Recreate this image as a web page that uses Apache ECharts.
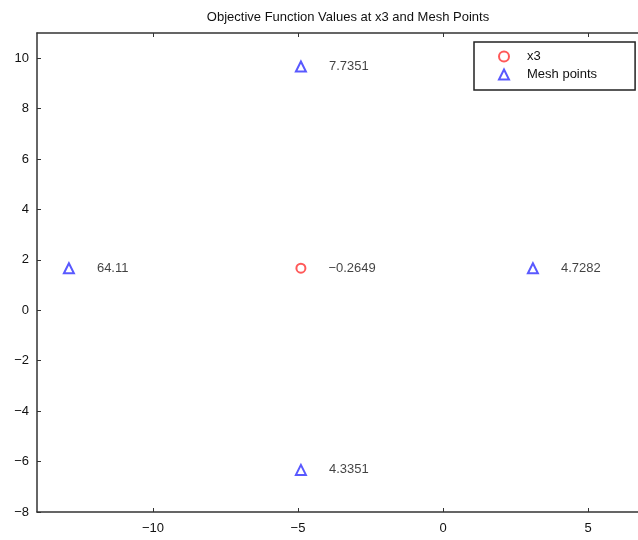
<!DOCTYPE html>
<html>
<head>
<meta charset="utf-8">
<script src="https://cdn.jsdelivr.net/npm/echarts@6/dist/echarts.min.js"></script>
<style>
  html, body { margin: 0; padding: 0; background: #fff; }
  #main { width: 638px; height: 540px; }
</style>
</head>
<body>
<div id="main"></div>
<script>
// 当前点 x3
var x3X = [-4.9];
var x3Y = [1.67];
var x3F = ['-0.2649'];

// 网格点 Mesh points
var meshX = [-4.9, -4.9, -12.9, 3.1];
var meshY = [9.67, -6.33, 1.67, 1.67];
var meshF = ['7.7351', '4.3351', '64.11', '4.7282'];

// 坐标轴刻度
var xTicks = [-10, -5, 0, 5];
var yTicks = [-8, -6, -4, -2, 0, 2, 4, 6, 8, 10];

var font = 'Liberation Sans, Helvetica, Arial, sans-serif';
var minus = function (v) { return String(v).replace('-', '\u2212'); };

function pts(xs, ys, fs) {
    return xs.map(function (x, i) { return [x, ys[i], fs[i]]; });
}

var axisLine = { show: true, onZero: false, lineStyle: { color: '#333', width: 1.5 } };

var myChart = echarts.init(document.getElementById('main'));

var option = {
    backgroundColor: '#fff',
    animation: false,
    title: {
        text: 'Objective Function Values at x3 and Mesh Points',
        left: 343,
        textAlign: 'center',
        top: 6,
        textStyle: { fontFamily: font, fontSize: 13, fontWeight: 'normal', color: '#111' }
    },
    legend: {
        left: 474,
        top: 42,
        orient: 'vertical',
        itemWidth: 10,
        itemHeight: 10,
        itemGap: 5,
        padding: [8, 38, 9, 24],
        borderColor: '#222',
        borderWidth: 1.5,
        backgroundColor: '#fff',
        textStyle: { fontFamily: font, fontSize: 13, color: '#111', padding: [0, 0, 0, 13] },
        data: ['x3', 'Mesh points']
    },
    // 右边界超出画布，保持原图被裁切的样子
    grid: { left: 37, top: 33, bottom: 28, right: -8, outerBoundsMode: 'none' },
    xAxis: [{
        type: 'value',
        min: -14, max: 7,
        axisLine: axisLine,
        axisTick: { show: true, inside: true, length: 4, customValues: xTicks, lineStyle: { color: '#333' } },
        axisLabel: { customValues: xTicks, margin: 10, fontFamily: font, fontSize: 13, color: '#111', formatter: minus },
        splitLine: { show: false }
    }, {
        type: 'value',
        position: 'top',
        min: -14, max: 7,
        axisLine: axisLine,
        axisTick: { show: true, inside: true, length: 4, customValues: xTicks, lineStyle: { color: '#333' } },
        axisLabel: { show: false },
        splitLine: { show: false }
    }],
    yAxis: [{
        type: 'value',
        min: -8, max: 11,
        axisLine: axisLine,
        axisTick: { show: true, inside: true, length: 4, customValues: yTicks, lineStyle: { color: '#333' } },
        axisLabel: { customValues: yTicks, margin: 8, fontFamily: font, fontSize: 13, color: '#111', formatter: minus },
        splitLine: { show: false }
    }, {
        type: 'value',
        position: 'right',
        min: -8, max: 11,
        axisLine: axisLine,
        axisTick: { show: false },
        axisLabel: { show: false },
        splitLine: { show: false }
    }],
    series: [{
        name: 'x3',
        type: 'scatter',
        symbol: 'emptyCircle',
        symbolSize: 9,
        itemStyle: { color: '#ff3030', borderColor: '#ff3030', borderWidth: 1 },
        label: {
            show: true, position: 'right', distance: 22,
            fontFamily: font, fontSize: 13, color: '#111',
            formatter: function (p) { return minus(p.value[2]); }
        },
        data: pts(x3X, x3Y, x3F)
    }, {
        name: 'Mesh points',
        type: 'scatter',
        symbol: 'emptyTriangle',
        symbolSize: 10,
        itemStyle: { color: '#3030ff', borderColor: '#3030ff', borderWidth: 1 },
        label: {
            show: true, position: 'right', distance: 22,
            fontFamily: font, fontSize: 13, color: '#111',
            formatter: function (p) { return p.value[2]; }
        },
        data: pts(meshX, meshY, meshF)
    }]
};

myChart.setOption(option);
</script>
</body>
</html>
